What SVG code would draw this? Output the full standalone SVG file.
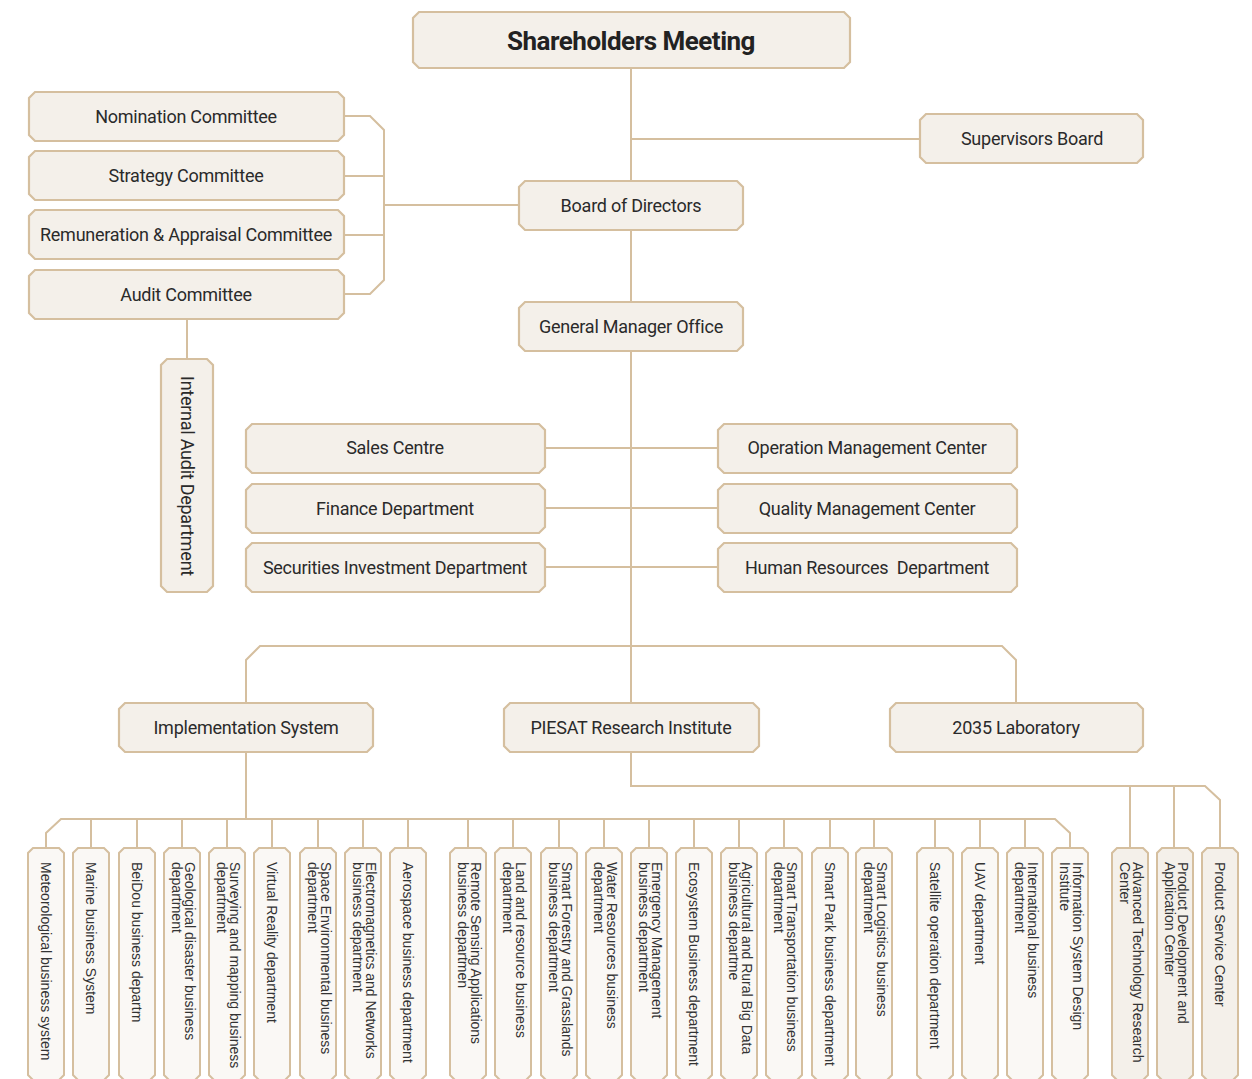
<svg xmlns="http://www.w3.org/2000/svg" width="1252" height="1079" viewBox="0 0 1252 1079">
<style>
.n{fill:#f4f0ea;stroke:#d5bf9f;stroke-width:2.2}
.b{fill:#faf8f5;stroke:#d5bf9f;stroke-width:2}
.b2{fill:#f4f0ea;stroke:#d5bf9f;stroke-width:2}
.t{font-family:Roboto,"Liberation Sans",sans-serif;font-size:18px;letter-spacing:-0.25px;fill:#2a2a2a;text-anchor:middle;dominant-baseline:central}
.h{font-family:Roboto,"Liberation Sans",sans-serif;font-size:26px;font-weight:bold;fill:#222;text-anchor:middle;dominant-baseline:central;letter-spacing:-0.5px}
.v{font-family:"Liberation Sans",Arial,sans-serif;font-size:14px;fill:#333}
.c{fill:none;stroke:#d5bf9f;stroke-width:2}
</style>
<rect width="1252" height="1079" fill="#ffffff"/>
<g id="connectors" class="c">
<path d="M631,68 V703"/>
<path d="M631,139 H920"/>
<path d="M344,116 H370 L384,130 V280 L370,294 H344"/>
<path d="M344,176 H384 M344,235 H384 M384,205 H519"/>
<path d="M187,319 V359"/>
<path d="M545,448 H718 M545,508 H718 M545,567 H718"/>
<path d="M246,703 V660 L260,646 H1002 L1016,660 V703"/>
<path d="M246,752 V819"/>
<path d="M1070,848 V833 L1055,819 H61 L46,833 V848"/>
<path d="M91,819 V848 M137,819 V848 M182,819 V848 M227,819 V848 M272,819 V848 M318,819 V848 M363,819 V848 M408,819 V848 M468,819 V848 M513,819 V848 M559,819 V848 M604,819 V848 M649,819 V848 M694,819 V848 M739,819 V848 M784,819 V848 M830,819 V848 M874,819 V848 M935,819 V848 M980,819 V848 M1025,819 V848"/>
<path d="M631,752 V786 H1205 L1220,800 V848"/>
<path d="M1130,786 V848 M1174,786 V848"/>
</g>
<g id="shareholders"><path class="n" d="M419,12 H844 L850,18 V62 L844,68 H419 L413,62 V18 Z"/><text class="h" x="631" y="41">Shareholders Meeting</text></g>
<g id="nomination"><path class="n" d="M35,92 H338 L344,98 V135 L338,141 H35 L29,135 V98 Z"/><text class="t" x="186" y="116">Nomination Committee</text></g>
<g id="strategy"><path class="n" d="M35,151 H338 L344,157 V194 L338,200 H35 L29,194 V157 Z"/><text class="t" x="186" y="175">Strategy Committee</text></g>
<g id="remuneration"><path class="n" d="M35,210 H338 L344,216 V253 L338,259 H35 L29,253 V216 Z"/><text class="t" x="186" y="234">Remuneration &amp; Appraisal Committee</text></g>
<g id="audit"><path class="n" d="M35,270 H338 L344,276 V313 L338,319 H35 L29,313 V276 Z"/><text class="t" x="186" y="294">Audit Committee</text></g>
<g id="board"><path class="n" d="M525,181 H737 L743,187 V224 L737,230 H525 L519,224 V187 Z"/><text class="t" x="631" y="205">Board of Directors</text></g>
<g id="supervisors"><path class="n" d="M926,114 H1137 L1143,120 V157 L1137,163 H926 L920,157 V120 Z"/><text class="t" x="1032" y="138">Supervisors Board</text></g>
<g id="gm"><path class="n" d="M525,302 H737 L743,308 V345 L737,351 H525 L519,345 V308 Z"/><text class="t" x="631" y="326">General Manager Office</text></g>
<g id="internal-audit"><path class="n" d="M167,359 H207 L213,365 V586 L207,592 H167 L161,586 V365 Z"/><text class="t" transform="translate(187,476) rotate(90)" x="0" y="0">Internal Audit Department</text></g>
<g id="sales"><path class="n" d="M252,424 H539 L545,430 V467 L539,473 H252 L246,467 V430 Z"/><text class="t" x="395" y="447">Sales Centre</text></g>
<g id="finance"><path class="n" d="M252,484 H539 L545,490 V527 L539,533 H252 L246,527 V490 Z"/><text class="t" x="395" y="508">Finance Department</text></g>
<g id="securities"><path class="n" d="M252,543 H539 L545,549 V586 L539,592 H252 L246,586 V549 Z"/><text class="t" x="395" y="567">Securities Investment Department</text></g>
<g id="operation"><path class="n" d="M724,424 H1011 L1017,430 V467 L1011,473 H724 L718,467 V430 Z"/><text class="t" x="867" y="447">Operation Management Center</text></g>
<g id="quality"><path class="n" d="M724,484 H1011 L1017,490 V527 L1011,533 H724 L718,527 V490 Z"/><text class="t" x="867" y="508">Quality Management Center</text></g>
<g id="hr"><path class="n" d="M724,543 H1011 L1017,549 V586 L1011,592 H724 L718,586 V549 Z"/><text class="t" x="867" y="567" xml:space="preserve">Human Resources  Department</text></g>
<g id="implementation"><path class="n" d="M125,703 H367 L373,709 V746 L367,752 H125 L119,746 V709 Z"/><text class="t" x="246" y="727">Implementation System</text></g>
<g id="piesat"><path class="n" d="M510,703 H753 L759,709 V746 L753,752 H510 L504,746 V709 Z"/><text class="t" x="631" y="727">PIESAT Research Institute</text></g>
<g id="lab2035"><path class="n" d="M896,703 H1137 L1143,709 V746 L1137,752 H896 L890,746 V709 Z"/><text class="t" x="1016" y="727">2035 Laboratory</text></g>

<g id="d1"><path class="b" d="M33,848 H59 L64,853 V1075 L59,1080 H33 L28,1075 V853 Z"/><text class="v" transform="translate(41,862) rotate(90)">Meteorological business system</text></g>
<g id="d2"><path class="b" d="M78,848 H104 L109,853 V1075 L104,1080 H78 L73,1075 V853 Z"/><text class="v" transform="translate(86,862) rotate(90)">Marine business System</text></g>
<g id="d3"><path class="b" d="M124,848 H150 L155,853 V1075 L150,1080 H124 L119,1075 V853 Z"/><text class="v" transform="translate(132,862) rotate(90)">BeiDou business departm</text></g>
<g id="d4"><path class="b" d="M169,848 H195 L200,853 V1075 L195,1080 H169 L164,1075 V853 Z"/><text class="v" transform="translate(185,862) rotate(90)"><tspan x="0" y="0">Geological disaster business</tspan><tspan x="0" y="13">department</tspan></text></g>
<g id="d5"><path class="b" d="M214,848 H240 L245,853 V1075 L240,1080 H214 L209,1075 V853 Z"/><text class="v" transform="translate(230,862) rotate(90)"><tspan x="0" y="0">Surveying and mapping business</tspan><tspan x="0" y="13">department</tspan></text></g>
<g id="d6"><path class="b" d="M259,848 H285 L290,853 V1075 L285,1080 H259 L254,1075 V853 Z"/><text class="v" transform="translate(267,862) rotate(90)">Virtual Reality department</text></g>
<g id="d7"><path class="b" d="M305,848 H331 L336,853 V1075 L331,1080 H305 L300,1075 V853 Z"/><text class="v" transform="translate(321,862) rotate(90)"><tspan x="0" y="0">Space Environmental business</tspan><tspan x="0" y="13">department</tspan></text></g>
<g id="d8"><path class="b" d="M350,848 H376 L381,853 V1075 L376,1080 H350 L345,1075 V853 Z"/><text class="v" transform="translate(366,862) rotate(90)"><tspan x="0" y="0">Electromagnetics and Networks</tspan><tspan x="0" y="13">business department</tspan></text></g>
<g id="d9"><path class="b" d="M395,848 H421 L426,853 V1075 L421,1080 H395 L390,1075 V853 Z"/><text class="v" transform="translate(403,862) rotate(90)">Aerospace business department</text></g>
<g id="d10"><path class="b" d="M455,848 H481 L486,853 V1075 L481,1080 H455 L450,1075 V853 Z"/><text class="v" transform="translate(471,862) rotate(90)"><tspan x="0" y="0">Remote Sensing Applications</tspan><tspan x="0" y="13">business departmen</tspan></text></g>
<g id="d11"><path class="b" d="M500,848 H526 L531,853 V1075 L526,1080 H500 L495,1075 V853 Z"/><text class="v" transform="translate(516,862) rotate(90)"><tspan x="0" y="0">Land and resource business</tspan><tspan x="0" y="13">department</tspan></text></g>
<g id="d12"><path class="b" d="M546,848 H572 L577,853 V1075 L572,1080 H546 L541,1075 V853 Z"/><text class="v" transform="translate(562,862) rotate(90)"><tspan x="0" y="0">Smart Forestry and Grasslands</tspan><tspan x="0" y="13">business department</tspan></text></g>
<g id="d13"><path class="b" d="M591,848 H617 L622,853 V1075 L617,1080 H591 L586,1075 V853 Z"/><text class="v" transform="translate(607,862) rotate(90)"><tspan x="0" y="0">Water Resources business</tspan><tspan x="0" y="13">department</tspan></text></g>
<g id="d14"><path class="b" d="M636,848 H662 L667,853 V1075 L662,1080 H636 L631,1075 V853 Z"/><text class="v" transform="translate(652,862) rotate(90)"><tspan x="0" y="0">Emergency Management</tspan><tspan x="0" y="13">business department</tspan></text></g>
<g id="d15"><path class="b" d="M681,848 H707 L712,853 V1075 L707,1080 H681 L676,1075 V853 Z"/><text class="v" transform="translate(689,862) rotate(90)">Ecosystem Business department</text></g>
<g id="d16"><path class="b" d="M726,848 H752 L757,853 V1075 L752,1080 H726 L721,1075 V853 Z"/><text class="v" transform="translate(742,862) rotate(90)"><tspan x="0" y="0">Agricultural and Rural Big Data</tspan><tspan x="0" y="13">business departme</tspan></text></g>
<g id="d17"><path class="b" d="M771,848 H797 L802,853 V1075 L797,1080 H771 L766,1075 V853 Z"/><text class="v" transform="translate(787,862) rotate(90)"><tspan x="0" y="0">Smart Transportation business</tspan><tspan x="0" y="13">department</tspan></text></g>
<g id="d18"><path class="b" d="M817,848 H843 L848,853 V1075 L843,1080 H817 L812,1075 V853 Z"/><text class="v" transform="translate(825,862) rotate(90)">Smart Park business department</text></g>
<g id="d19"><path class="b" d="M861,848 H887 L892,853 V1075 L887,1080 H861 L856,1075 V853 Z"/><text class="v" transform="translate(877,862) rotate(90)"><tspan x="0" y="0">Smart Logistics business</tspan><tspan x="0" y="13">department</tspan></text></g>
<g id="d20"><path class="b" d="M922,848 H948 L953,853 V1075 L948,1080 H922 L917,1075 V853 Z"/><text class="v" transform="translate(930,862) rotate(90)">Satellite operation department</text></g>
<g id="d21"><path class="b" d="M967,848 H993 L998,853 V1075 L993,1080 H967 L962,1075 V853 Z"/><text class="v" transform="translate(975,862) rotate(90)">UAV department</text></g>
<g id="d22"><path class="b" d="M1012,848 H1038 L1043,853 V1075 L1038,1080 H1012 L1007,1075 V853 Z"/><text class="v" transform="translate(1028,862) rotate(90)"><tspan x="0" y="0">International business</tspan><tspan x="0" y="13">department</tspan></text></g>
<g id="d23"><path class="b" d="M1057,848 H1083 L1088,853 V1075 L1083,1080 H1057 L1052,1075 V853 Z"/><text class="v" transform="translate(1073,862) rotate(90)"><tspan x="0" y="0">Information System Design</tspan><tspan x="0" y="13">Institute</tspan></text></g>
<g id="d24"><path class="b2" d="M1117,848 H1143 L1148,853 V1075 L1143,1080 H1117 L1112,1075 V853 Z"/><text class="v" transform="translate(1133,862) rotate(90)"><tspan x="0" y="0">Advanced Technology Research</tspan><tspan x="0" y="13">Center</tspan></text></g>
<g id="d25"><path class="b2" d="M1162,848 H1188 L1193,853 V1075 L1188,1080 H1162 L1157,1075 V853 Z"/><text class="v" transform="translate(1178,862) rotate(90)"><tspan x="0" y="0">Product Development and</tspan><tspan x="0" y="13">Application Center</tspan></text></g>
<g id="d26"><path class="b2" d="M1207,848 H1233 L1238,853 V1075 L1233,1080 H1207 L1202,1075 V853 Z"/><text class="v" transform="translate(1215,862) rotate(90)">Product Service Center</text></g>
</svg>
